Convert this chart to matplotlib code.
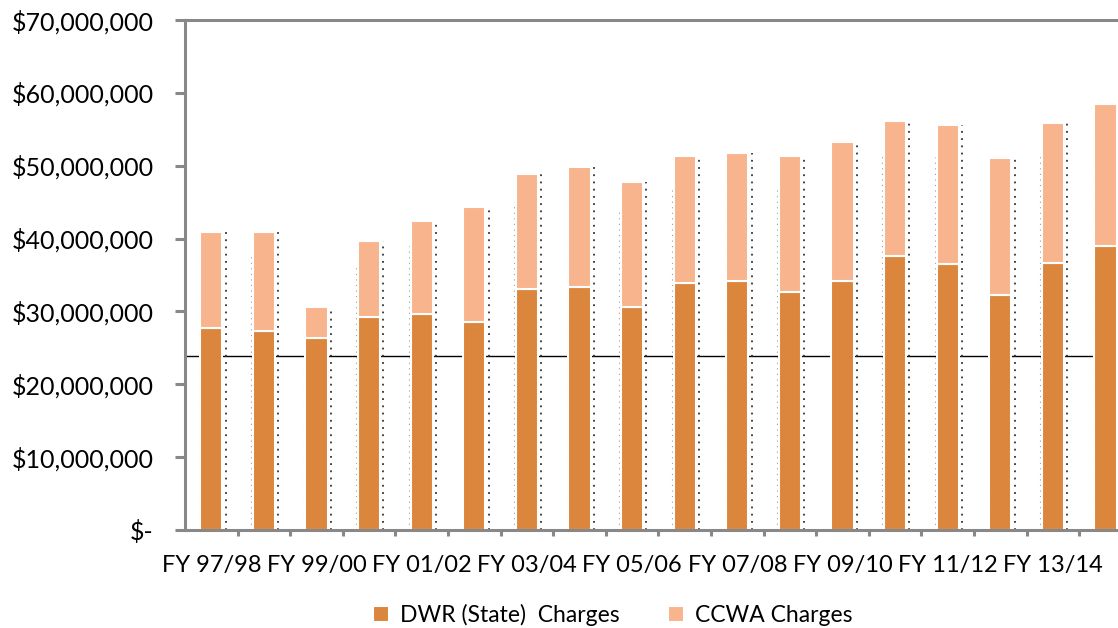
import matplotlib
matplotlib.use("Agg")
import matplotlib.pyplot as plt
import numpy as np

years = ["FY 97/98", "FY 98/99", "FY 99/00", "FY 00/01", "FY 01/02", "FY 02/03",
         "FY 03/04", "FY 04/05", "FY 05/06", "FY 06/07", "FY 07/08", "FY 08/09",
         "FY 09/10", "FY 10/11", "FY 11/12", "FY 12/13", "FY 13/14", "FY 14/15"]
dwr = [27.7, 27.3, 26.3, 29.3, 29.7, 28.6, 33.1, 33.4, 30.6, 33.9, 34.2, 32.6,
       34.2, 37.6, 36.5, 32.2, 36.6, 39.0]
total = [40.9, 40.9, 30.6, 39.6, 42.4, 44.4, 48.9, 49.8, 47.7, 51.3, 51.7, 51.3,
         53.2, 56.1, 55.6, 51.1, 55.9, 58.5]
ccwa = [t - d for t, d in zip(total, dwr)]
reference_line = 23.9
yticks = [0, 10, 20, 30, 40, 50, 60, 70]

dwr_v = np.array(dwr) * 1e6
ccwa_v = np.array(ccwa) * 1e6

plt.rcParams['font.family'] = ['Lato', 'DejaVu Sans']

fig = plt.figure(figsize=(11.18, 6.28), dpi=100)
ax = fig.add_axes([185 / 1118, 1 - 530 / 628, 946.8 / 1118, 510 / 628])

x = np.arange(len(years))
c_dwr = "#DB863C"
c_ccwa = "#F8B48D"

ax.axhline(reference_line * 1e6, color="black", lw=1.0, zorder=1)

# dotted artifacts beside bars
for i in range(len(years)):
    ax.plot([i + 0.27, i + 0.27], [0, total[i] * 1e6], color="#333333",
            lw=1.3, ls=(0, (1, 3)), zorder=1.5)
    ax.plot([i - 0.24, i - 0.24], [0, total[i] * 1e6 * 0.92], color="#999999",
            lw=0.8, ls=(0, (1, 4)), zorder=1.5)

ax.bar(x, dwr_v, width=0.42, color=c_dwr, edgecolor="white", linewidth=1.5,
       label="DWR (State)  Charges", zorder=2)
ax.bar(x, ccwa_v, width=0.42, bottom=dwr_v, color=c_ccwa, edgecolor="white",
       linewidth=1.5, label="CCWA Charges", zorder=2)

ax.set_xlim(-0.5, len(years) - 0.5)
ax.set_ylim(0, 70e6)

ax.set_yticks([v * 1e6 for v in yticks])
ax.set_yticklabels(["$-" if v == 0 else "${:,.0f}".format(v * 1e6) for v in yticks])

ax.set_xticks(x[::2])
ax.set_xticklabels(years[::2])
ax.set_xticks(np.arange(len(years)) + 0.5, minor=True)
ax.tick_params(axis="x", which="major", length=0, pad=18, labelsize=17)
ax.tick_params(axis="x", which="minor", length=4, width=2.2, color="#888888")
ax.tick_params(axis="y", length=7, width=2.2, color="#888888", labelsize=18, pad=15.5)

for s in ["left", "bottom", "top"]:
    ax.spines[s].set_color("#888888")
    ax.spines[s].set_linewidth(2.2)
ax.spines["right"].set_visible(False)

leg = fig.legend(loc="lower center", bbox_to_anchor=(0.548, -0.03), ncol=2,
                 frameon=False, fontsize=16.5, handlelength=0.7, handleheight=0.7,
                 columnspacing=2.1, handletextpad=0.5)

fig.savefig("out.png", dpi=100)
